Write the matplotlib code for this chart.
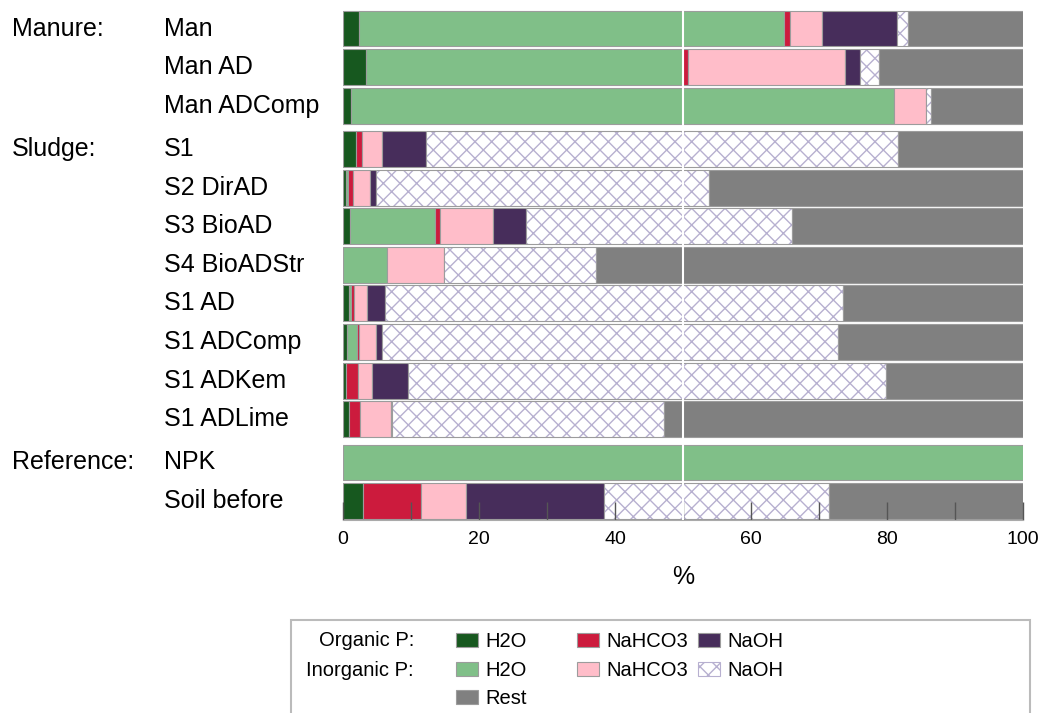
import matplotlib

matplotlib.use("Agg")
import matplotlib.pyplot as plt
import numpy as np
from matplotlib.patches import Patch, Rectangle
from matplotlib.transforms import blended_transform_factory

plt.rcParams["font.family"] = ["Liberation Sans", "DejaVu Sans"]

# rows, top to bottom
groups = ["Manure:", "Sludge:", "Reference:"]
group_of_row = [0, 0, 0, 1, 1, 1, 1, 1, 1, 1, 1, 2, 2]
samples = ["Man", "Man AD", "Man ADComp", "S1", "S2 DirAD", "S3 BioAD",
           "S4 BioADStr", "S1 AD", "S1 ADComp", "S1 ADKem", "S1 ADLime",
           "NPK", "Soil before"]

# P fractions, % of total P
org_h2o = [2.3, 3.4, 1.2, 1.9, 0.5, 1.0, 0.0, 0.9, 0.6, 0.5, 0.9, 0.0, 3.0]
inorg_h2o = [62.6, 46.6, 79.9, 0.0, 0.3, 12.6, 6.4, 0.3, 1.5, 0.0, 0.0, 100.0, 0.0]
org_nahco3 = [0.8, 0.8, 0.0, 0.9, 0.6, 0.7, 0.0, 0.4, 0.3, 1.7, 1.6, 0.0, 8.4]
inorg_nahco3 = [4.8, 23.0, 4.7, 3.0, 2.6, 7.8, 8.4, 2.0, 2.4, 2.0, 4.5, 0.0, 6.7]
org_naoh = [11.0, 2.2, 0.0, 6.4, 0.8, 4.8, 0.0, 2.6, 0.9, 5.4, 0.2, 0.0, 20.3]
inorg_naoh = [1.6, 2.8, 0.7, 69.4, 49.0, 39.1, 22.4, 67.3, 67.1, 70.3, 40.0, 0.0, 33.1]
rest = [16.9, 21.2, 13.5, 18.4, 46.2, 34.0, 62.8, 26.5, 27.2, 20.1, 52.8, 0.0, 28.5]

fractions = [org_h2o, inorg_h2o, org_nahco3, inorg_nahco3, org_naoh, inorg_naoh, rest]
colors = ["#17581f", "#80bf88", "#cc1b3d", "#ffbdc9", "#472d5b", "white", "#808080"]
hatches = [None, None, None, None, None, "xx", None]
HATCH_COLOR = "#b7b0d0"
EDGE = "#9c9c9c"

fig = plt.figure(figsize=(10.39, 7.13), dpi=100)
ax = fig.add_axes([343 / 1039, 1 - 520 / 713, 680 / 1039, 510 / 713])

y = np.arange(len(samples)) + 0.12 * np.array(group_of_row)
left = np.zeros(len(samples))
for vals, col, hat in zip(fractions, colors, hatches):
    vals = np.array(vals)
    m = vals > 0
    if hat:
        ax.barh(y[m], vals[m], left=left[m], height=0.93, color=col,
                edgecolor=HATCH_COLOR, hatch=hat, linewidth=0)
        ax.barh(y[m], vals[m], left=left[m], height=0.93, fill=False,
                edgecolor=EDGE, linewidth=0.8)
    else:
        ax.barh(y[m], vals[m], left=left[m], height=0.93, color=col,
                edgecolor=EDGE, linewidth=0.8)
    left += vals

ax.axvline(50, color="white", linewidth=1.5, zorder=3)

ax.set_xlim(0, 100)
ax.set_ylim(y[-1] + 0.49, -0.48)
ax.set_yticks([])
ax.set_xticks(np.arange(0, 101, 20))
ax.set_xticks(np.arange(10, 100, 20), minor=True)
ax.tick_params(axis="x", which="both", direction="in", length=13, width=1,
               color="#555555", labelsize=14, pad=8)
for s in ["top", "right", "left"]:
    ax.spines[s].set_visible(False)
ax.spines["bottom"].set_color("#aaaaaa")
ax.set_xlabel("%", fontsize=18, labelpad=12)

tr = blended_transform_factory(fig.transFigure, ax.transData)
seen = set()
for yi, name, g in zip(y, samples, group_of_row):
    ax.text(164 / 1039, yi, name, transform=tr, fontsize=18, va="center", ha="left")
    if g not in seen:
        ax.text(12 / 1039, yi, groups[g], transform=tr, fontsize=18, va="center", ha="left")
        seen.add(g)

# legend
fig.add_artist(Rectangle((291 / 1039, -0.05), 739 / 1039, 0.05 + 1 - 620 / 713,
                         transform=fig.transFigure, fill=False, edgecolor="#bbbbbb",
                         linewidth=1.5))
fig.text(414 / 1039, 1 - 641 / 713, "Organic P:", fontsize=14.5, ha="right", va="center")
fig.text(414 / 1039, 1 - 670 / 713, "Inorganic P:", fontsize=14.5, ha="right", va="center")


def patch(i):
    if hatches[i]:
        return Patch(facecolor="white", edgecolor=HATCH_COLOR, hatch=hatches[i], linewidth=0.8)
    return Patch(facecolor=colors[i], edgecolor=EDGE, linewidth=0.8)


legend_cols = [
    (456, [patch(0), patch(1), patch(6)], ["H2O", "H2O", "Rest"]),
    (577, [patch(2), patch(3)], ["NaHCO3", "NaHCO3"]),
    (698, [patch(4), patch(5)], ["NaOH", "NaOH"]),
]
for x0, handles, labels in legend_cols:
    leg = fig.legend(handles, labels, loc="upper left",
                     bbox_to_anchor=(x0 / 1039, 1 - 632 / 713), frameon=False,
                     fontsize=14.5, borderpad=0, borderaxespad=0,
                     handlelength=1.1, handleheight=0.7, handletextpad=0.35,
                     labelspacing=0.48)

fig.savefig("out.png", dpi=100)
